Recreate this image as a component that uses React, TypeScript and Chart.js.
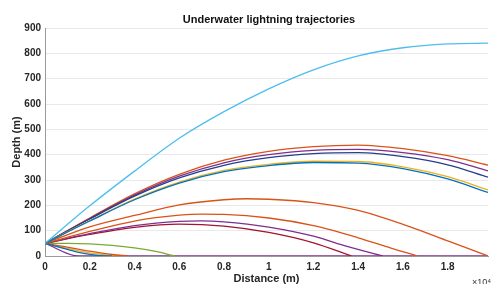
import React, { useEffect, useRef } from "react";
import { Chart, registerables } from "chart.js";

Chart.register(...registerables);

const TITLE = "Underwater lightning trajectories";
const X_TITLE = "Distance (m)";
const Y_TITLE = "Depth (m)";
const X_EXPONENT = "×10⁴";

const xMax = 1.98;
const yTicksMax = 900;

// shared x grid for the long curves (×10^4 m)
const gridX = [0, 0.2, 0.4, 0.6, 0.8, 1.0, 1.2, 1.4, 1.6, 1.8, 1.98];

const cyanY = [50, 198, 335, 465, 570, 660, 735, 790, 822, 837, 840];
const topOrangeY = [50, 150, 245, 322, 378, 413, 432, 438, 424, 396, 359];
const topPurpleY = [50, 148, 240, 315, 368, 400, 417, 421, 408, 380, 336];
const topNavyY = [50, 146, 236, 308, 358, 388, 404, 408, 392, 360, 311];
const topYellowY = [50, 140, 225, 292, 338, 362, 374, 373, 352, 313, 261];
const topBlueY = [50, 138, 222, 288, 333, 357, 369, 367, 345, 304, 251];

const midOrangeX = [0, 0.2, 0.4, 0.6, 0.8, 0.9, 1.0, 1.2, 1.4, 1.6, 1.8, 1.98];
const midOrangeY = [50, 115, 160, 202, 222, 226, 224, 211, 180, 125, 60, 0];

const lowOrangeX = [0, 0.2, 0.4, 0.6, 0.7, 0.8, 1.0, 1.2, 1.4, 1.55, 1.665];
const lowOrangeY = [50, 97, 138, 161, 165, 164, 150, 120, 72, 30, 0];

const lowPurpleX = [0, 0.2, 0.4, 0.6, 0.7, 0.8, 1.0, 1.2, 1.35, 1.51];
const lowPurpleY = [50, 88, 120, 137, 139, 135, 114, 78, 38, 0];

const darkRedX = [0, 0.2, 0.4, 0.6, 0.8, 1.0, 1.2, 1.37];
const darkRedY = [50, 85, 113, 126, 118, 93, 52, 0];

const greenX = [0, 0.1, 0.2, 0.3, 0.4, 0.5, 0.58];
const greenY = [50, 50, 48, 42, 32, 17, 0];

const descBlueX = [0, 0.05, 0.1, 0.15, 0.2, 0.25, 0.3];
const descBlueY = [50, 38, 26, 14, 6, 1, 0];

const descOrangeX = [0, 0.1, 0.2, 0.3, 0.37];
const descOrangeY = [50, 35, 19, 6, 0];

const descYellowX = [0, 0.1, 0.2, 0.3, 0.33];
const descYellowY = [50, 30, 12, 2, 0];

const flatPurpleX = [0, 0.15, 1.98];
const flatPurpleY = [50, 0, 0];

const pts = (xs: number[], ys: number[]) => xs.map((x, i) => ({ x, y: ys[i] }));

const FONT = "'Liberation Sans', Arial, Helvetica, sans-serif";

export default function App() {
  const ref = useRef<HTMLCanvasElement | null>(null);

  useEffect(() => {
    if (!ref.current) return;
    const mk = (xs: number[], ys: number[], color: string) => ({
      data: pts(xs, ys),
      borderColor: color,
      backgroundColor: color,
      borderWidth: 1.3,
      pointRadius: 0,
      fill: false,
      cubicInterpolationMode: "monotone" as const,
    });

    const overlay = {
      id: "overlay",
      afterDraw(chart: any) {
        const ctx = chart.ctx;
        ctx.save();
        ctx.fillStyle = "#111";
        ctx.font = `bold 11px ${FONT}`;
        ctx.textAlign = "center";
        ctx.textBaseline = "middle";
        ctx.fillText(TITLE, 269, 20);
        ctx.fillStyle = "#333";
        ctx.font = `9px ${FONT}`;
        ctx.textAlign = "left";
        ctx.fillText(X_EXPONENT, 472, 283);
        ctx.restore();
      },
    };

    const chart = new Chart(ref.current, {
      type: "line",
      data: {
        datasets: [
          mk(gridX, cyanY, "#4DBEEE"),
          mk(gridX, topBlueY, "#0072BD"),
          mk(gridX, topYellowY, "#EDB120"),
          mk(gridX, topNavyY, "#233f8c"),
          mk(gridX, topPurpleY, "#7E2F8E"),
          mk(gridX, topOrangeY, "#D95319"),
          mk(midOrangeX, midOrangeY, "#D95319"),
          mk(lowOrangeX, lowOrangeY, "#D95319"),
          mk(lowPurpleX, lowPurpleY, "#7E2F8E"),
          mk(darkRedX, darkRedY, "#A2142F"),
          mk(greenX, greenY, "#77AC30"),
          mk(descBlueX, descBlueY, "#0072BD"),
          mk(descOrangeX, descOrangeY, "#D95319"),
          mk(descYellowX, descYellowY, "#EDB120"),
          mk(flatPurpleX, flatPurpleY, "#7E2F8E"),
        ],
      },
      options: {
        animation: false,
        responsive: false,
        maintainAspectRatio: false,
        layout: { padding: { top: 28, right: 3, left: 0, bottom: 0 } },
        plugins: {
          legend: { display: false },
          title: { display: false },
          tooltip: { enabled: false },
        },
        scales: {
          x: {
            type: "linear",
            min: 0,
            max: xMax,
            afterFit: (s: any) => {
              s.height = 28;
            },
            grid: { display: false, drawTicks: false },
            border: { display: true, color: "#9a9a9a", width: 1 },
            ticks: {
              stepSize: 0.2,
              includeBounds: false,
              autoSkip: false,
              maxRotation: 0,
              padding: 5,
              color: "#262626",
              font: { family: FONT, size: 10, weight: "bold" },
              callback: (v: any) => String(Number(Number(v).toFixed(1))),
            },
            title: {
              display: true,
              text: X_TITLE,
              color: "#262626",
              font: { family: FONT, size: 11, weight: "bold" },
              padding: { top: 0, bottom: -2 },
            },
          },
          y: {
            type: "linear",
            min: 0,
            max: yTicksMax,
            afterFit: (s: any) => {
              s.width = 45;
            },
            grid: { color: "#e9e9e9", drawTicks: false },
            border: { display: true, color: "#9a9a9a", width: 1 },
            ticks: {
              stepSize: 100,
              padding: 4,
              color: "#262626",
              font: { family: FONT, size: 10, weight: "bold" },
            },
            title: {
              display: true,
              text: Y_TITLE,
              color: "#262626",
              font: { family: FONT, size: 11, weight: "bold" },
              padding: { top: 10, bottom: 0 },
            },
          },
        },
      },
      plugins: [overlay],
    } as any);
    return () => chart.destroy();
  }, []);

  return (
    <div style={{ position: "fixed", left: 0, top: 0, width: 491, height: 284, background: "#fff" }}>
      <canvas ref={ref} width={491} height={284} style={{ width: 491, height: 284, display: "block" }} />
    </div>
  );
}
